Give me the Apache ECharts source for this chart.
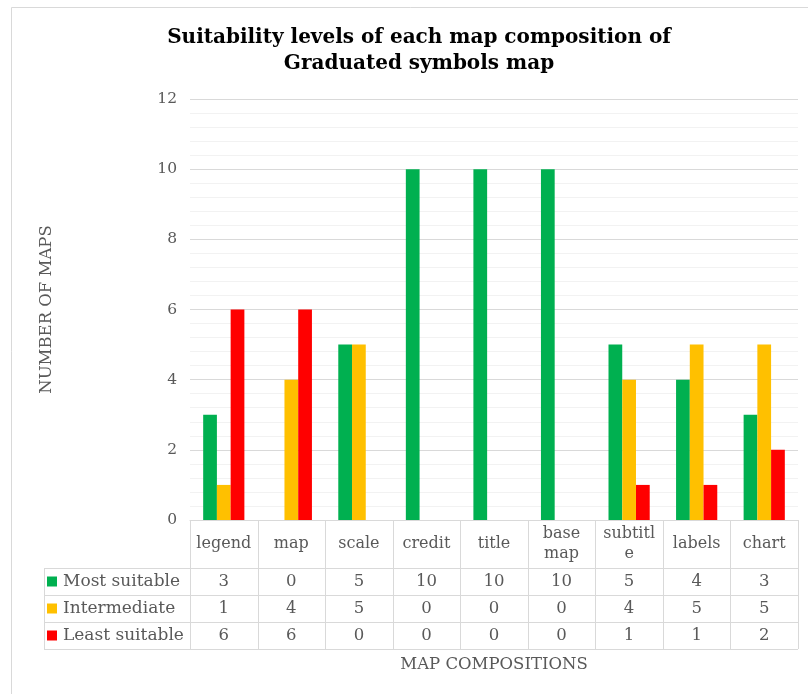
<!DOCTYPE html>
<html>
<head>
<meta charset="utf-8">
<script src="https://cdn.jsdelivr.net/npm/echarts@6/dist/echarts.min.js"></script>
<style>
html,body{margin:0;padding:0;background:#fff;}
#chart{width:808px;height:694px;}
</style>
</head>
<body>
<div id="chart"></div>
<script>
// ---- data ----
const categories = ["legend","map","scale","credit","title","base map","subtitle","labels","chart"];
const headerLabels = ["legend","map","scale","credit","title","base\nmap","subtitl\ne","labels","chart"];
const seriesNames = ["Most suitable","Intermediate","Least suitable"];
const mostSuitable = [3,0,5,10,10,10,5,4,3];
const intermediate = [1,4,5,0,0,0,4,5,5];
const leastSuitable = [6,6,0,0,0,0,1,1,2];
const yTicks = [0,2,4,6,8,10,12];

// ---- layout / style ----
const W = 808, H = 694;
const GL = 190, GR = 10, GT = 99, GB = 174;
const AXIS_Y = H - GB;
const HEADER_H = 48, ROW_H = 27;
const TABLE_LEFT = 44;
const FONT = "DejaVu Serif";
const TXT = "#595959";
const LINE = "#d9d9d9";
const colors = ["#00b050","#ffc000","#ff0000"];
const rows = [mostSuitable, intermediate, leastSuitable];

const chart = echarts.init(document.getElementById('chart'), null, {renderer:'canvas'});

const xAxes = [{
  type:'category', gridIndex:0, data:categories, position:'bottom',
  axisLine:{show:true, lineStyle:{color:LINE}}, axisTick:{show:false},
  axisLabel:{formatter:(v,i)=>headerLabels[i], interval:0, margin:HEADER_H/2, verticalAlign:'middle',
    color:TXT, fontFamily:FONT, fontSize:16, lineHeight:20},
  name:'MAP COMPOSITIONS', nameLocation:'middle', nameGap:136,
  nameTextStyle:{color:TXT, fontFamily:FONT, fontSize:16.5}
}];
rows.forEach((r, k) => {
  xAxes.push({
    type:'category', gridIndex:0, data:categories, position:'bottom',
    offset: HEADER_H + ROW_H*k + ROW_H/2,
    axisLine:{show:false}, axisTick:{show:false}, splitLine:{show:false},
    axisLabel:{formatter:(v,i)=>String(r[i]), interval:0, margin:0, verticalAlign:'middle',
      color:TXT, fontFamily:FONT, fontSize:16.5}
  });
});

// table lines (decoration following the grid layout)
const graphics = [];
const gx0 = GL, gx1 = W - GR;
const bw = (gx1 - gx0) / categories.length;
const yHeadBottom = AXIS_Y + HEADER_H;
const yBottom = yHeadBottom + ROW_H*rows.length;
function hline(x1,x2,y){graphics.push({type:'line',shape:{x1:x1,y1:y+0.5,x2:x2,y2:y+0.5},style:{stroke:LINE,lineWidth:1},silent:true});}
function vline(x,y1,y2){graphics.push({type:'line',shape:{x1:x+0.5,y1:y1,x2:x+0.5,y2:y2},style:{stroke:LINE,lineWidth:1},silent:true});}
for (let k=0;k<=rows.length;k++) hline(TABLE_LEFT, gx1, yHeadBottom + ROW_H*k);
vline(TABLE_LEFT, yHeadBottom, yBottom);
for (let c=0;c<=categories.length;c++) vline(Math.round(gx0 + bw*c), AXIS_Y, yBottom);
// outer chart border
graphics.push({type:'rect',shape:{x:11.5,y:7.5,width:W,height:H},style:{fill:null,stroke:LINE,lineWidth:1},silent:true,z:-1});

const option = {
  backgroundColor:'#fff',
  animation:false,
  title:{
    text:'Suitability levels of each map composition of\nGraduated symbols map',
    left:414, top:20, textAlign:'center',
    textStyle:{fontFamily:FONT, fontWeight:'bold', fontSize:20, lineHeight:26, color:'#000'}
  },
  legend:{
    orient:'vertical', left:TABLE_LEFT+3, top:yHeadBottom, itemGap:0,
    itemWidth:10, itemHeight:10, icon:'rect',
    data:seriesNames,
    textStyle:{fontFamily:FONT, fontSize:17, color:TXT, lineHeight:ROW_H, padding:[0,0,0,1]},
    padding:0
  },
  grid:{left:GL, right:GR, top:GT, bottom:GB, containLabel:false},
  xAxis: xAxes,
  yAxis:{
    type:'value', min:yTicks[0], max:yTicks[yTicks.length-1], interval:2,
    axisLine:{show:false}, axisTick:{show:false},
    axisLabel:{color:TXT, fontFamily:FONT, fontSize:15.5, margin:13},
    splitLine:{lineStyle:{color:LINE}},
    minorTick:{show:false, splitNumber:5},
    minorSplitLine:{show:true, lineStyle:{color:'#f2f2f2'}},
    name:'NUMBER OF MAPS', nameLocation:'middle', nameGap:135,
    nameTextStyle:{color:TXT, fontFamily:FONT, fontSize:16.5}
  },
  series: rows.map((r,k)=>({
    name:seriesNames[k], type:'bar', data:r, xAxisIndex:0,
    barGap:'0%', barCategoryGap:'39%',
    itemStyle:{color:colors[k]}
  })),
  graphic: graphics
};
chart.setOption(option);
</script>
</body>
</html>
